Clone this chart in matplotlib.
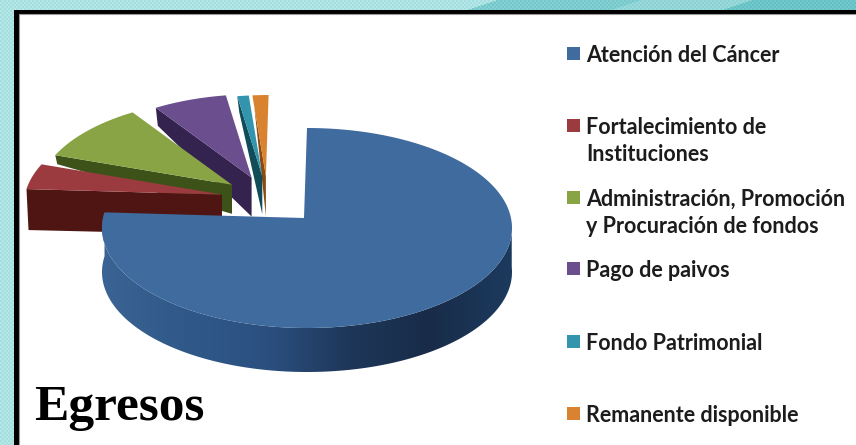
import numpy as np
import matplotlib
matplotlib.use("Agg")
import matplotlib.pyplot as plt
from matplotlib.colors import LinearSegmentedColormap
from matplotlib.patches import Polygon, Rectangle

# shares of the pie (clockwise from 12 o'clock)
labels = [
    "Atención del Cáncer",
    "Fortalecimiento de\nInstituciones",
    "Administración, Promoción\ny Procuración de fondos",
    "Pago de paivos",
    "Fondo Patrimonial",
    "Remanente disponible",
]
shares = [77.5, 4.2, 9.6, 6.3, 1.0, 1.4]

top_colors = ["#3f6b9f", "#9c3b3f", "#89a444", "#6a4e8e", "#3294ad", "#d9822f"]
side_colors = ["#2b4f7c", "#4f1512", "#3c5219", "#35234f", "#114c5a", "#8a4a14"]

# pixel layout
W, H = 856, 445
CX, CY, RX, RY = 307, 228, 205, 100
APEX = (304, 218)
DEPTH = 44
# rim shrink for the pulled out slices (further back = smaller)
shrink = [1.0, 0.98, 0.96, 0.925, 0.90, 0.90]
# thickness of the cut face at the rim and at the apex
depth_rim = [0, 41, 9, 18, 16, 12]
depth_apex = [0, 40, 29, 39, 38, 40]
legend_y = [53, 125, 197, 268, 341, 413]


def rim(theta):
    return CX + RX * np.sin(theta), CY - RY * np.cos(theta)


def explode(mid):
    # group shift plus radial pull
    return -36 + 48 * np.sin(mid), -16 - 26 * np.cos(mid)


fig = plt.figure(figsize=(W / 100, H / 100), dpi=100)
ax = fig.add_axes([0, 0, 1, 1])

# dithered teal backdrop, the streaks only show in the band along the top
yy, xx = np.mgrid[0:H, 0:W]
base = np.array([0.66, 0.87, 0.87]) * np.ones((H, W, 3))
diag = xx + 3 * yy
base[(yy < 10) & (diag > 495) & (diag < 640)] = [0.47, 0.78, 0.79]
base[(yy < 10) & (diag >= 640) & (diag <= 750)] = [0.56, 0.82, 0.83]
base[(yy < 10) & (diag > 750)] = [0.40, 0.75, 0.76]
checker = ((xx // 2 + yy // 2) % 2)[..., None] * 0.04
ax.imshow(np.clip(base + checker, 0, 1), extent=(0, W, H, 0), aspect="auto", zorder=0)

ax.add_patch(Rectangle((14.5, 9.5), W, H, fc="black", ec="none", zorder=1))
ax.add_patch(Rectangle((19, 14), W, H, fc="white", ec="#9a9a9a", lw=0.8, zorder=2))

edges = np.cumsum([0] + shares) / 100 * 2 * np.pi

# small slices first, back to front, the big one goes on top
for i in [5, 4, 3, 2, 1]:
    t0, t1 = edges[i], edges[i + 1]
    dx, dy = explode((t0 + t1) / 2)
    ax_, ay_ = APEX[0] + dx, APEX[1] + dy
    th = np.linspace(t0, t1, 40)
    rx_, ry_ = rim(th)
    px = ax_ + shrink[i] * (rx_ - APEX[0])
    py = ay_ + shrink[i] * (ry_ - APEX[1])
    # cut face along the leading edge
    face = [(px[0], py[0]), (ax_, ay_), (ax_, ay_ + depth_apex[i]), (px[0] + 2, py[0] + depth_rim[i])]
    ax.add_patch(Polygon(face, fc=side_colors[i], ec="none", zorder=3 + (5 - i)))
    ax.add_patch(Polygon(np.r_[[[ax_, ay_]], np.c_[px, py]], fc=top_colors[i], ec="none", zorder=3 + (5 - i)))

# side of the big slice: horizontal gradient clipped to the wall outline
side_cmap = LinearSegmentedColormap.from_list(
    "side", ["#3a6493", "#30598a", "#2b5080", "#1e3759", "#182c49", "#1c3a5e"]
)
th = np.linspace(np.pi / 2 - 0.05, edges[1], 260)
wx, wy = rim(th)
wall = Polygon(np.r_[np.c_[wx, wy], np.c_[wx, wy + DEPTH][::-1]], fc="none", ec="none", zorder=10)
ax.add_patch(wall)
grad = ax.imshow(np.linspace(0, 1, 256)[None, :], cmap=side_cmap, aspect="auto",
                 extent=(CX - RX, CX + RX, 400, 200), zorder=10)
grad.set_clip_path(wall)

th = np.linspace(edges[0], edges[1], 300)
mx, my = rim(th)
ax.add_patch(Polygon(np.r_[[APEX], np.c_[mx, my]], fc=top_colors[0], ec="none", zorder=11))

# legend
font = ["Lato", "DejaVu Sans"]
for y, lab, col in zip(legend_y, labels, top_colors):
    ax.add_patch(Rectangle((567, y - 6.5), 13, 13, fc=col, ec="none", zorder=12))
    ax.text(586, y - 8, lab, fontsize=15.5, family=font, weight="bold", color="#1c1c1c",
            va="top", ha="left", linespacing=1.36, zorder=12)

ax.text(34, 420, "Egresos", fontsize=37, family="Liberation Serif", weight="bold",
        color="black", va="baseline", ha="left", zorder=12)

ax.set_xlim(0, W)
ax.set_ylim(H, 0)
ax.axis("off")
fig.savefig("out.png", dpi=100)
